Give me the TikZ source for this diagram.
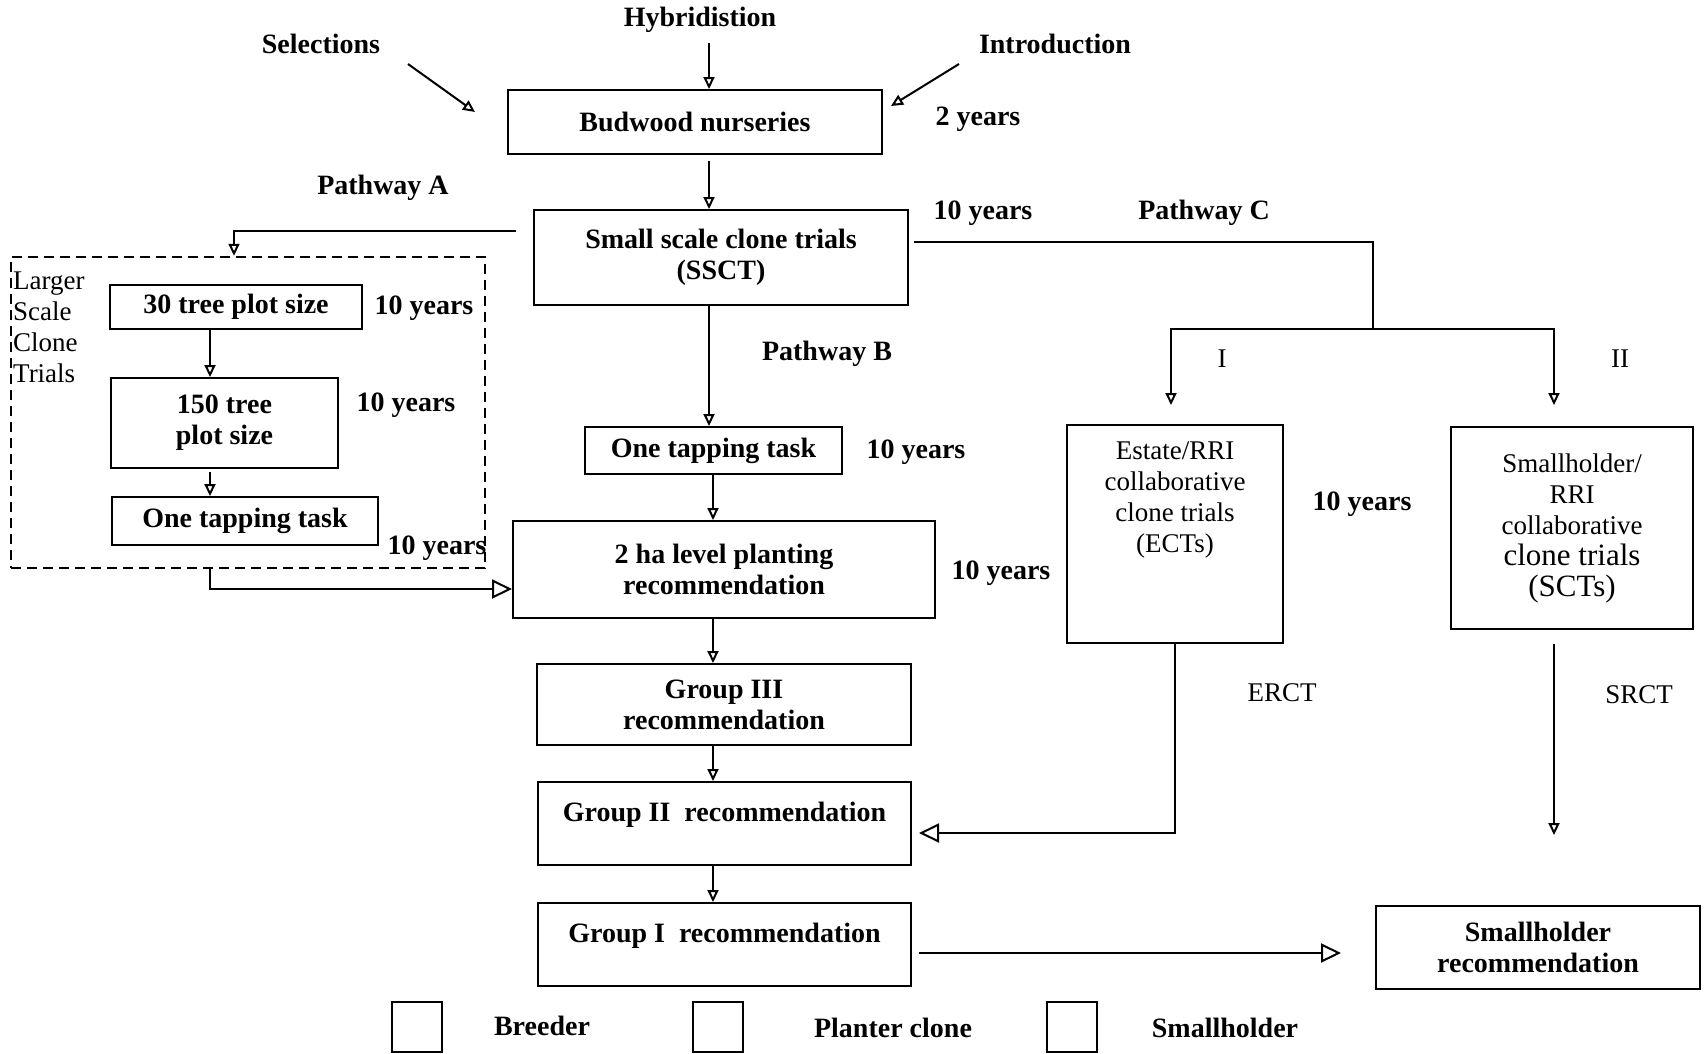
\documentclass[tikz,border=0pt]{standalone}
\usepackage{fontspec}
\setmainfont{Liberation Serif}
\usetikzlibrary{arrows.meta}

\begin{document}
\begin{tikzpicture}[
  x=1pt, y=-1pt,
  stage/.style={
    draw,
    line width=2pt,
    inner sep=0pt,
    align=center,
    font=\bfseries\fontsize{28}{31}\selectfont
  },
  trialbox/.style={
    stage,
    font=\fontsize{27}{31}\selectfont
  },
  note/.style={inner sep=0pt, align=center, font=\bfseries\fontsize{28}{31}\selectfont},
  plainnote/.style={note, font=\fontsize{27}{31}\selectfont},
  flow/.style={line width=2pt, -{Triangle[open, length=12pt, width=11pt]}},
  bigflow/.style={line width=2pt, -{Triangle[open, length=20pt, width=19pt]}},
  link/.style={line width=2pt},
  legendbox/.style={draw, line width=2pt, minimum size=50pt, inner sep=0pt}
]
\useasboundingbox (0,0) rectangle (1708,1053);

% columns of the vertical arrows
\coordinate (colA) at (210,0);
\coordinate (colB) at (709,0);
\coordinate (colB2) at (713,0);

% sources
\node[note] (hyb) at (700,20) {Hybridistion};
\node[note] (sel) at (321,44) {Selections};
\node[note] (intro) at (1055,44) {Introduction};

\node[stage, minimum width=374pt, minimum height=64pt] (bud) at (695,122) {Budwood nurseries};
\node[note] (yrsbud) at (978,119) {2 years};

\coordinate (selA) at (408,64);
\coordinate (selB) at (475,112);
\coordinate (introA) at (959,64);
\coordinate (introB) at (891,106);
\draw[flow, shorten <=10pt] (hyb.south -| colB) -- (bud.north -| colB);
\draw[flow] (selA) -- (selB);
\draw[flow] (introA) -- (introB);

\node[stage, minimum width=374pt, minimum height=95pt] (ssct) at (721,257.5) {Small scale clone trials\\(SSCT)};
\node[note] (yrsssct) at (983,213) {10 years};
\draw[flow, shorten <=6pt] (bud.south -| colB) -- (ssct.north -| colB);

\node[note] (patha) at (383,188) {Pathway A};
\node[note] (pathb) at (827,354) {Pathway B};
\node[note] (pathc) at (1204,213) {Pathway C};

% Pathway A
\node[draw, dash pattern=on 10pt off 6pt, line width=2.5pt, minimum width=474pt, minimum height=311pt, inner sep=0pt] (lsct) at (248,412.5) {};
\node[plainnote, align=left, anchor=north west] (lsctlbl) at (13,272) {Larger\\Scale\\Clone\\Trials};
\coordinate (paout) at ([shift={(-17pt,26.5pt)}]ssct.west);
\draw[flow] (paout) -| ([xshift=-14pt]lsct.north);

\node[stage, minimum width=252pt, minimum height=44pt] (tree30) at (236,307) {30 tree plot size};
\node[note] (yrs30) at (424,308) {10 years};
\node[stage, minimum width=227pt, minimum height=90pt] (tree150) at (224.5,423) {150 tree\\plot size};
\node[note] (yrs150) at (406,405) {10 years};
\node[stage, minimum width=266pt, minimum height=48pt] (tapA) at (245,521) {One tapping task};
\node[note] (yrstapA) at (437,548) {10 years};
\draw[flow] (tree30.south -| colA) -- (tree150.north -| colA);
\draw[flow, shorten <=3pt] (tree150.south -| colA) -- (tapA.north -| colA);

% Pathway B
\node[stage, minimum width=257pt, minimum height=47pt] (tapB) at (713.5,450.5) {One tapping task};
\node[note] (yrstapB) at (916,452) {10 years};
\node[stage, minimum width=422pt, minimum height=97pt] (twoha) at (724,569.5) {2 ha level planting\\recommendation};
\node[note] (yrstwoha) at (1001,573) {10 years};
\node[stage, minimum width=374pt, minimum height=81pt] (g3) at (724,704.5) {Group III\\recommendation};
\node[stage, minimum width=373pt, minimum height=83pt, text depth=24pt] (g2) at (724.5,823.5) {Group II\enspace recommendation};
\node[stage, minimum width=373pt, minimum height=83pt, text depth=24pt] (g1) at (724.5,944.5) {Group I\enspace recommendation};
\draw[flow] (ssct.south -| colB) -- (tapB.north -| colB);
\draw[flow] (tapB.south -| colB2) -- (twoha.north -| colB2);
\draw[flow] (twoha.south -| colB2) -- (g3.north -| colB2);
\draw[flow] (g3.south -| colB2) -- (g2.north -| colB2);
\draw[flow] (g2.south -| colB2) -- (g1.north -| colB2);

\coordinate (twohain) at ([yshift=-19.5pt]twoha.west);
\draw[bigflow] (lsct.south -| colA) |- (twohain);

% Pathway C
\coordinate (split) at (1373,329);
\coordinate (pcout) at ([shift={(5pt,15.5pt)}]ssct.east);
\draw[link] (pcout) -| (split);

\node[trialbox, minimum width=216pt, minimum height=218pt,
  label={[plainnote, anchor=north, yshift=-17pt]north:Estate/RRI\\collaborative\\clone trials\\(ECTs)}] (ects) at (1175,534) {};
\node[trialbox, minimum width=242pt, minimum height=202pt] (scts) at (1572,528)
  {Smallholder/\\RRI\\collaborative\\{\fontsize{31}{35}\selectfont clone trials}\\{\fontsize{31}{35}\selectfont (SCTs)}};
\draw[flow, shorten >=19pt] (split) -| ([xshift=-4pt]ects.north);
\draw[flow, shorten >=21pt] (split) -| ([xshift=-18pt]scts.north);
\node[plainnote] (one) at (1222,359) {I};
\node[plainnote] (two) at (1620,359) {II};
\node[note] (yrsects) at (1362,504) {10 years};

\coordinate (g2in) at ([shift={(7pt,-9.5pt)}]g2.east);
\draw[bigflow] (ects.south) |- (g2in);
\node[plainnote] (erct) at (1282,693) {ERCT};

\coordinate (srctend) at (1554,835);
\draw[flow, shorten <=14pt] (scts.south -| srctend) -- (srctend);
\node[plainnote] (srct) at (1639,695) {SRCT};

\node[stage, minimum width=324pt, minimum height=83pt] (shrec) at (1538,947.5) {Smallholder\\recommendation};
\coordinate (g1out) at ([shift={(7pt,-8.5pt)}]g1.east);
\draw[bigflow, shorten >=34pt] (g1out) -- (g1out -| shrec.west);

% legend
\node[legendbox] (breeder) at (416.5,1026.5) {};
\node[note] (breederlbl) at (542,1026) {Breeder};
\node[legendbox] (planter) at (718,1026.5) {};
\node[note] (planterlbl) at (893,1028) {Planter clone};
\node[legendbox] (smallh) at (1072,1026.5) {};
\node[note] (smallhlbl) at (1225,1028) {Smallholder};
\end{tikzpicture}
\end{document}
